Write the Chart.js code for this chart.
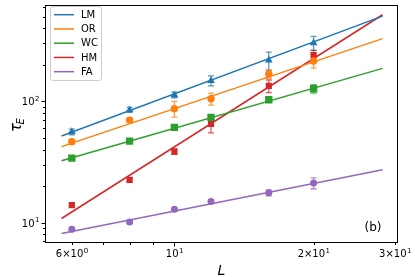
<!DOCTYPE html>
<html>
<head>
<meta charset="utf-8">
<script src="https://cdn.jsdelivr.net/npm/chart.js@4/dist/chart.umd.min.js"></script>
<style>
  body { margin: 0; background: #fff; }
  canvas { display: block; }
</style>
</head>
<body>
<canvas id="c" width="415" height="277"></canvas>
<script>
// system sizes L and measured tau_E
const sizes = [6, 8, 10, 12, 16, 20]
const lmVals = [56, 85, 113, 148, 218, 303]
const lmErr = [3, 4, 6, 14, 37, 40]
const orVals = [46.5, 70, 87, 105, 168, 215]
const orErr = [2, 3, 13, 12, 13, 27]
const wcVals = [34, 47, 61, 73.6, 103, 127]
const wcErr = [1.5, 2, 3, 4, 5, 10]
const hmVals = [13.9, 22.5, 38.5, 65, 134, 241]
const hmErr = [0.5, 1, 2, 10, 16, 22]
const faVals = [8.8, 10.1, 12.9, 14.9, 17.6, 21.2]
const faErr = [0.3, 0.3, 0.4, 0.5, 1, 2.2]

// power-law fit lines (end points)
const fitL = [5.7, 28.2]
const lmFit = [51.8, 505]
const orFit = [42.3, 329]
const wcFit = [32.3, 187]
const hmFit = [10.8, 518]
const faFit = [8.13, 27.3]

// tick positions
const xMajor = [10]
const xMinor = [6, 7, 8, 9, 20, 30]
const xLabels = [[6, '6\u00d710', '0'], [10, '10', '1'], [20, '2\u00d710', '1'], [30, '3\u00d710', '1']]
const yMajor = [10, 100]
const yMinor = [7, 8, 9, 20, 30, 40, 50, 60, 70, 80, 90, 200, 300, 400, 500, 600]
const yLabels = [[10, '10', '1'], [100, '10', '2']]

const series = [
  { name: 'LM', color: '#1f77b4', vals: lmVals, err: lmErr, fit: lmFit, style: 'triangle', r: 4.5 },
  { name: 'OR', color: '#ff7f0e', vals: orVals, err: orErr, fit: orFit, style: 'circle', r: 3.7 },
  { name: 'WC', color: '#2ca02c', vals: wcVals, err: wcErr, fit: wcFit, style: 'rect', r: 5.2 },
  { name: 'HM', color: '#d62728', vals: hmVals, err: hmErr, fit: hmFit, style: 'rect', r: 4.4 },
  { name: 'FA', color: '#9467bd', vals: faVals, err: faErr, fit: faFit, style: 'circle', r: 3.5 }
]

const pts = (xs, ys) => xs.map((x, i) => ({ x: x, y: ys[i] }))

const datasets = []
series.forEach(s => {
  datasets.push({
    type: 'line', label: s.name, data: pts(fitL, s.fit),
    borderColor: s.color, borderWidth: 1.5, pointRadius: 0, fill: false
  })
  datasets.push({
    type: 'scatter', label: s.name + ' data', data: pts(sizes, s.vals), err: s.err,
    backgroundColor: s.color, borderColor: s.color, borderWidth: 0,
    pointStyle: s.style, pointRadius: s.r
  })
})

function sup(ctx, x, y, base, exp, align) {
  ctx.font = '10px "DejaVu Sans"'
  const wb = ctx.measureText(base).width
  ctx.font = '7px "DejaVu Sans"'
  const we = ctx.measureText(exp).width
  let x0 = align === 'right' ? x - wb - we : x - (wb + we) / 2
  ctx.textAlign = 'left'
  ctx.textBaseline = 'alphabetic'
  ctx.font = '10px "DejaVu Sans"'
  ctx.fillText(base, x0, y)
  ctx.font = '7px "DejaVu Sans"'
  ctx.fillText(exp, x0 + wb + 0.5, y - 4.5)
}

const axesPlugin = {
  id: 'axesPlugin',
  beforeDatasetsDraw(chart) {
    const ctx = chart.ctx
    const xs = chart.scales.x, ys = chart.scales.y
    ctx.save()
    chart.data.datasets.forEach(ds => {
      if (!ds.err) return
      ctx.strokeStyle = ds.borderColor
      ctx.globalAlpha = 0.75
      ctx.lineWidth = 1.3
      ds.data.forEach((p, i) => {
        const px = xs.getPixelForValue(p.x)
        const top = ys.getPixelForValue(p.y + ds.err[i])
        const bot = ys.getPixelForValue(p.y - ds.err[i])
        ctx.beginPath()
        ctx.moveTo(px, top); ctx.lineTo(px, bot)
        ctx.moveTo(px - 3, top); ctx.lineTo(px + 3, top)
        ctx.moveTo(px - 3, bot); ctx.lineTo(px + 3, bot)
        ctx.stroke()
      })
    })
    ctx.restore()
  },
  afterDraw(chart) {
    const ctx = chart.ctx
    const a = chart.chartArea
    const xs = chart.scales.x, ys = chart.scales.y
    ctx.save()
    // frame
    ctx.strokeStyle = '#000'
    ctx.lineWidth = 1
    ctx.strokeRect(Math.round(a.left) + 0.5, Math.round(a.top) + 0.5,
      Math.round(a.right - a.left) - 1, Math.round(a.bottom - a.top) - 1)
    // ticks
    ctx.beginPath()
    xMajor.forEach(v => { const p = Math.round(xs.getPixelForValue(v)) + 0.5; ctx.moveTo(p, a.bottom); ctx.lineTo(p, a.bottom + 3.5) })
    xMinor.forEach(v => { const p = Math.round(xs.getPixelForValue(v)) + 0.5; ctx.moveTo(p, a.bottom); ctx.lineTo(p, a.bottom + 2) })
    yMajor.forEach(v => { const p = Math.round(ys.getPixelForValue(v)) + 0.5; ctx.moveTo(a.left, p); ctx.lineTo(a.left - 3.5, p) })
    yMinor.forEach(v => { const p = Math.round(ys.getPixelForValue(v)) + 0.5; ctx.moveTo(a.left, p); ctx.lineTo(a.left - 2, p) })
    ctx.stroke()
    ctx.fillStyle = '#000'
    xLabels.forEach(l => sup(ctx, xs.getPixelForValue(l[0]), a.bottom + 14, l[1], l[2], 'center'))
    yLabels.forEach(l => sup(ctx, a.left - 6, ys.getPixelForValue(l[0]) + 4, l[1], l[2], 'right'))
    // axis titles
    ctx.font = 'italic 14px "DejaVu Sans"'
    ctx.textAlign = 'center'
    ctx.textBaseline = 'alphabetic'
    ctx.fillText('L', (a.left + a.right) / 2, 275)
    ctx.save()
    ctx.translate(21, (a.top + a.bottom) / 2 + 2)
    ctx.rotate(-Math.PI / 2)
    ctx.textAlign = 'left'
    ctx.font = 'italic 15px "DejaVu Sans"'
    ctx.fillText('\u03c4', -6, 0)
    ctx.font = 'italic 10px "DejaVu Sans"'
    ctx.fillText('E', 1.5, 3)
    ctx.restore()
    // panel tag
    ctx.font = '12px "DejaVu Sans"'
    ctx.textAlign = 'center'
    ctx.textBaseline = 'middle'
    ctx.fillText('(b)', 373, 228)
    // legend
    ctx.fillStyle = 'rgba(255,255,255,0.8)'
    ctx.strokeStyle = '#cccccc'
    ctx.lineWidth = 1
    ctx.beginPath()
    ctx.roundRect(50.5, 6.5, 51, 74, 2.5)
    ctx.fill(); ctx.stroke()
    ctx.font = '10px "DejaVu Sans"'
    ctx.textAlign = 'left'
    ctx.textBaseline = 'middle'
    series.forEach((s, i) => {
      const y = 14.7 + i * 14.25
      ctx.strokeStyle = s.color
      ctx.lineWidth = 1.5
      ctx.beginPath(); ctx.moveTo(54, y); ctx.lineTo(74, y); ctx.stroke()
      ctx.fillStyle = '#000'
      ctx.fillText(s.name, 81, y + 0.5)
    })
    ctx.restore()
  }
}

new Chart(document.getElementById('c'), {
  type: 'scatter',
  data: { datasets: datasets },
  options: {
    responsive: false,
    animation: false,
    layout: { padding: { left: 45, right: 17, top: 3, bottom: 34 } },
    plugins: { legend: { display: false }, tooltip: { enabled: false } },
    scales: {
      x: { type: 'logarithmic', min: 5.25, max: 30.45, display: false },
      y: { type: 'logarithmic', min: 6.78, max: 621, display: false }
    }
  },
  plugins: [axesPlugin]
})
</script>
</body>
</html>
